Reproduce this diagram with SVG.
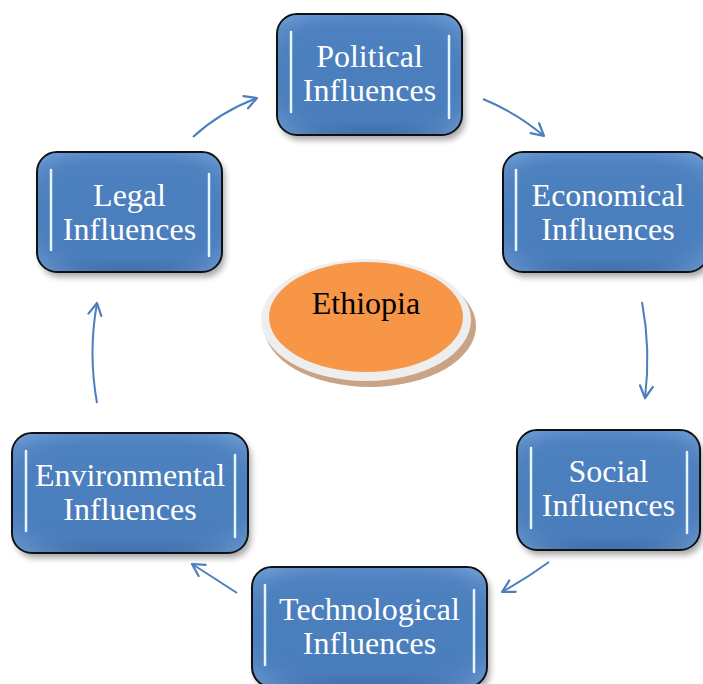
<svg xmlns="http://www.w3.org/2000/svg" width="703" height="684" viewBox="0 0 703 684">
  <defs>
    <linearGradient id="boxFill" x1="0" y1="0" x2="0" y2="1">
      <stop offset="0" stop-color="#5a8ccb"/>
      <stop offset="0.12" stop-color="#4d80be"/>
      <stop offset="0.88" stop-color="#4a7dbc"/>
      <stop offset="1" stop-color="#3f6ea8"/>
    </linearGradient>
    <radialGradient id="edgeGlow" cx="0.5" cy="0.5" r="0.75">
      <stop offset="0.6" stop-color="#4f82c0" stop-opacity="0"/>
      <stop offset="1" stop-color="#8fb6e6" stop-opacity="0.8"/>
    </radialGradient>
    <filter id="soft" x="-20%" y="-20%" width="140%" height="140%">
      <feGaussianBlur stdDeviation="3"/>
    </filter>
    <filter id="glow" x="-300%" y="-20%" width="700%" height="140%">
      <feGaussianBlur stdDeviation="2"/>
    </filter>
    <marker id="head" viewBox="0 0 16 16" refX="14" refY="8" markerWidth="16" markerHeight="16" markerUnits="userSpaceOnUse" orient="auto">
      <path d="M2,1.5 L14,8 L2,14.5" fill="none" stroke="#4a7ebd" stroke-width="2.2" stroke-linecap="round" stroke-linejoin="round"/>
    </marker>
  </defs>
  <style>
    .shadow { fill: #000; opacity: 0.35; filter: url(#soft); }
    .box { fill: url(#boxFill); stroke: #111; stroke-width: 2; }
    .rim { fill: url(#edgeGlow); stroke: none; }
    .hl { stroke: #e6f4ff; stroke-width: 2.5; stroke-linecap: round; fill: none; }
    .hlglow { stroke: #9fd0ff; stroke-width: 6; stroke-linecap: round; fill: none; filter: url(#glow); }
    .lbl { font-family: "Liberation Serif", "Times New Roman", serif; font-size: 32px; fill: #ffffff; text-anchor: middle; }
    .conn { fill: none; stroke: #4a7ebd; stroke-width: 2; marker-end: url(#head); }
  </style>

  <rect width="703" height="684" fill="#ffffff"/>

  <!-- central ellipse -->
  <g id="ethiopia">
    <ellipse cx="370" cy="326" rx="106" ry="61" fill="#c9a383"/>
    <ellipse cx="366" cy="320" rx="105" ry="61" fill="#eeeeee"/>
    <ellipse cx="366" cy="317" rx="97" ry="55" fill="#f79646"/>
    <text x="366" y="314" font-family="Liberation Serif, Times New Roman, serif" font-size="32" fill="#000" text-anchor="middle">Ethiopia</text>
  </g>

  <!-- node: Political -->
  <g id="political">
    <rect class="shadow" x="280" y="19" width="185" height="121" rx="20"/>
    <rect class="box" x="277" y="14" width="185" height="121" rx="20"/>
    <rect class="rim" x="278" y="15" width="183" height="119" rx="19"/>
    <line class="hlglow" x1="291" y1="32" x2="291" y2="112"/>
    <line class="hl" x1="291" y1="32" x2="291" y2="112"/>
    <line class="hlglow" x1="449" y1="36" x2="449" y2="118"/>
    <line class="hl" x1="449" y1="36" x2="449" y2="118"/>
    <text class="lbl" x="369.5" y="67">Political</text>
    <text class="lbl" x="369.5" y="101">Influences</text>
  </g>

  <!-- node: Economical -->
  <g id="economical">
    <rect class="shadow" x="506" y="157" width="205" height="120" rx="20"/>
    <rect class="box" x="503" y="152" width="205" height="120" rx="20"/>
    <rect class="rim" x="504" y="153" width="203" height="118" rx="19"/>
    <line class="hlglow" x1="516" y1="170" x2="516" y2="250"/>
    <line class="hl" x1="516" y1="170" x2="516" y2="250"/>
    <text class="lbl" x="608" y="206">Economical</text>
    <text class="lbl" x="608" y="240">Influences</text>
  </g>

  <!-- node: Social -->
  <g id="social">
    <rect class="shadow" x="520" y="435" width="183" height="120" rx="20"/>
    <rect class="box" x="517" y="430" width="183" height="120" rx="20"/>
    <rect class="rim" x="518" y="431" width="181" height="118" rx="19"/>
    <line class="hlglow" x1="531" y1="448" x2="531" y2="528"/>
    <line class="hl" x1="531" y1="448" x2="531" y2="528"/>
    <line class="hlglow" x1="687" y1="452" x2="687" y2="533"/>
    <line class="hl" x1="687" y1="452" x2="687" y2="533"/>
    <text class="lbl" x="608.5" y="482">Social</text>
    <text class="lbl" x="608.5" y="516">Influences</text>
  </g>

  <!-- node: Technological -->
  <g id="technological">
    <rect class="shadow" x="255" y="572" width="235" height="120" rx="20"/>
    <rect class="box" x="252" y="567" width="235" height="120" rx="20"/>
    <rect class="rim" x="253" y="568" width="233" height="118" rx="19"/>
    <line class="hlglow" x1="265" y1="585" x2="265" y2="665"/>
    <line class="hl" x1="265" y1="585" x2="265" y2="665"/>
    <line class="hlglow" x1="474" y1="590" x2="474" y2="672"/>
    <line class="hl" x1="474" y1="590" x2="474" y2="672"/>
    <text class="lbl" x="369.5" y="620">Technological</text>
    <text class="lbl" x="369.5" y="654">Influences</text>
  </g>

  <!-- node: Environmental -->
  <g id="environmental">
    <rect class="shadow" x="15" y="438" width="236" height="120" rx="20"/>
    <rect class="box" x="12" y="433" width="236" height="120" rx="20"/>
    <rect class="rim" x="13" y="434" width="234" height="118" rx="19"/>
    <line class="hlglow" x1="26" y1="451" x2="26" y2="531"/>
    <line class="hl" x1="26" y1="451" x2="26" y2="531"/>
    <line class="hlglow" x1="235" y1="455" x2="235" y2="537"/>
    <line class="hl" x1="235" y1="455" x2="235" y2="537"/>
    <text class="lbl" x="130" y="486">Environmental</text>
    <text class="lbl" x="130" y="520">Influences</text>
  </g>

  <!-- node: Legal -->
  <g id="legal">
    <rect class="shadow" x="40" y="157" width="185" height="120" rx="20"/>
    <rect class="box" x="37" y="152" width="185" height="120" rx="20"/>
    <rect class="rim" x="38" y="153" width="183" height="118" rx="19"/>
    <line class="hlglow" x1="51" y1="170" x2="51" y2="250"/>
    <line class="hl" x1="51" y1="170" x2="51" y2="250"/>
    <line class="hlglow" x1="209" y1="174" x2="209" y2="256"/>
    <line class="hl" x1="209" y1="174" x2="209" y2="256"/>
    <text class="lbl" x="129.5" y="206">Legal</text>
    <text class="lbl" x="129.5" y="240">Influences</text>
  </g>

  <!-- connectors -->
  <g id="connectors">
    <path class="conn" d="M193,137 Q220,112 257,98"/>
    <path class="conn" d="M483,99 Q517,113 544,136"/>
    <path class="conn" d="M642,302 Q651,350 645,398"/>
    <path class="conn" d="M549,562 Q527,578 502,592"/>
    <path class="conn" d="M237,593 Q214,578 192,564"/>
    <path class="conn" d="M97,403 Q88,353 97,303"/>
  </g>
</svg>
